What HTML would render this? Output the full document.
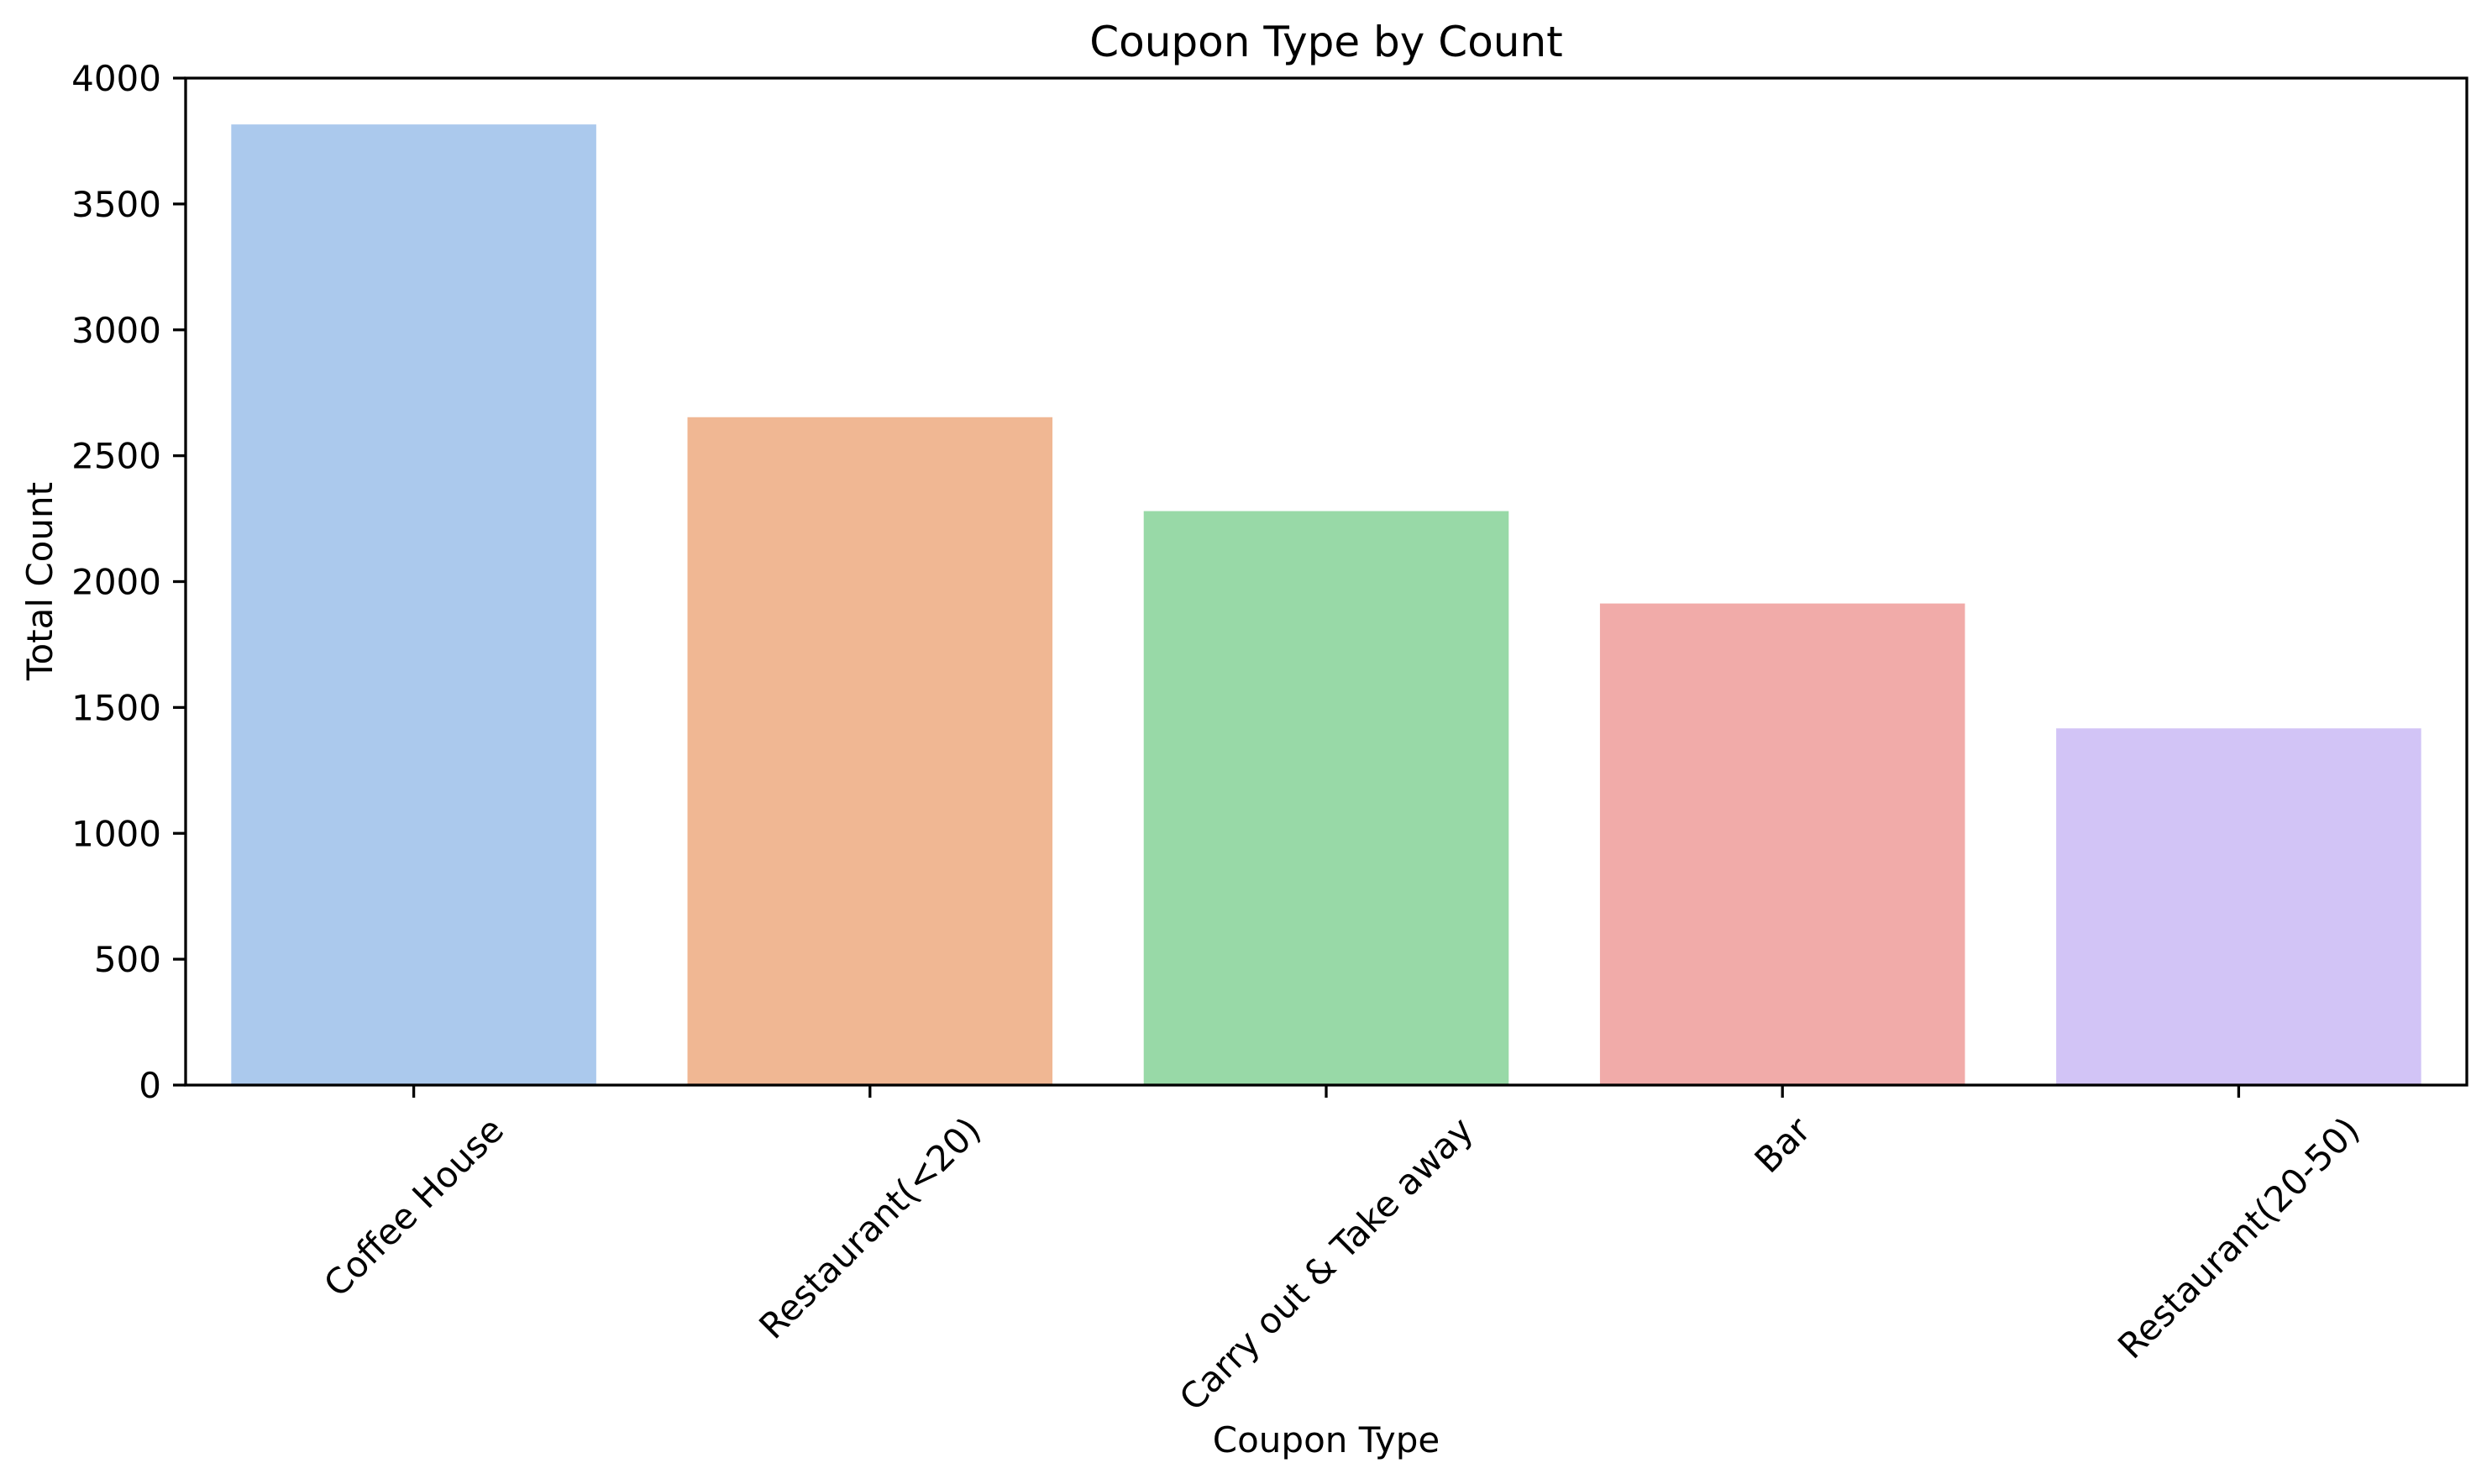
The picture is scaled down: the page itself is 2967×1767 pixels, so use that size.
<!DOCTYPE html>
<html><head><meta charset="utf-8"><style>
html,body{margin:0;padding:0;background:#fff;}
svg{display:block;font-family:"DejaVu Sans","Liberation Sans",sans-serif;}
</style></head><body>
<svg id="chart" width="2967" height="1767" viewBox="0 0 2967 1767">
<rect width="2967" height="1767" fill="#fff"/>
<text x="1579" y="67" font-size="50" text-anchor="middle">Coupon Type by Count</text>
<text x="1579" y="1729" font-size="42" text-anchor="middle">Coupon Type</text>
<text transform="translate(62,692) rotate(-90)" font-size="42" text-anchor="middle">Total Count</text>
<g id="bars"></g><g id="yticks"></g><g id="xticks"></g>
<rect x="221" y="93" width="2716" height="1199" fill="none" stroke="#000" stroke-width="3.3"/>
</svg>
<script>
const categories = ["Coffee House","Restaurant(<20)","Carry out & Take away","Bar","Restaurant(20-50)"];
const counts = [3816, 2653, 2280, 1913, 1417];
const colors = ["#abc9ed","#f0b793","#98d9a7","#f1aba9","#d2c4f6"];
const yTicks = [0,500,1000,1500,2000,2500,3000,3500,4000];
const NS="http://www.w3.org/2000/svg";
const L=221,R=2937,T=93,B=1292,YMAX=4000;
const step=(R-L)/categories.length;
function xs(i){return L+step*(i+0.5);}
function ys(v){return B-(v/YMAX)*(B-T);}
const bars=document.getElementById('bars'),yt=document.getElementById('yticks'),xt=document.getElementById('xticks');
counts.forEach((v,i)=>{
 const r=document.createElementNS(NS,'rect');
 r.setAttribute('x',xs(i)-step*0.4);r.setAttribute('width',step*0.8);
 r.setAttribute('y',ys(v));r.setAttribute('height',B-ys(v));r.setAttribute('fill',colors[i]);
 
 
 bars.appendChild(r);
});
yTicks.forEach(v=>{
 const y=ys(v);
 const l=document.createElementNS(NS,'line');
 l.setAttribute('x1',L-15);l.setAttribute('x2',L);l.setAttribute('y1',y);l.setAttribute('y2',y);
 l.setAttribute('stroke','#000');l.setAttribute('stroke-width','3.3');
 
 
 yt.appendChild(l);
 const t=document.createElementNS(NS,'text');
 t.setAttribute('x',L-29);t.setAttribute('y',y+15);t.setAttribute('font-size','42');t.setAttribute('text-anchor','end');
 t.textContent=v;
 
 
 yt.appendChild(t);
});
categories.forEach((c,i)=>{
 const x=xs(i);
 const l=document.createElementNS(NS,'line');
 l.setAttribute('x1',x);l.setAttribute('x2',x);l.setAttribute('y1',B);l.setAttribute('y2',B+15);
 l.setAttribute('stroke','#000');l.setAttribute('stroke-width','3.3');
 
 
 xt.appendChild(l);
 const t=document.createElementNS(NS,'text');
 t.setAttribute('font-size','42');t.setAttribute('text-anchor','middle');t.setAttribute('dominant-baseline','central');
 t.textContent=c;
 
 
 xt.appendChild(t);
 const w=t.getComputedTextLength(),h=48;
 const bh=(w+h)*Math.SQRT1_2;
 t.setAttribute('transform','translate('+x+','+(B+29+bh/2)+') rotate(-45)');
});
</script>
</body></html>
